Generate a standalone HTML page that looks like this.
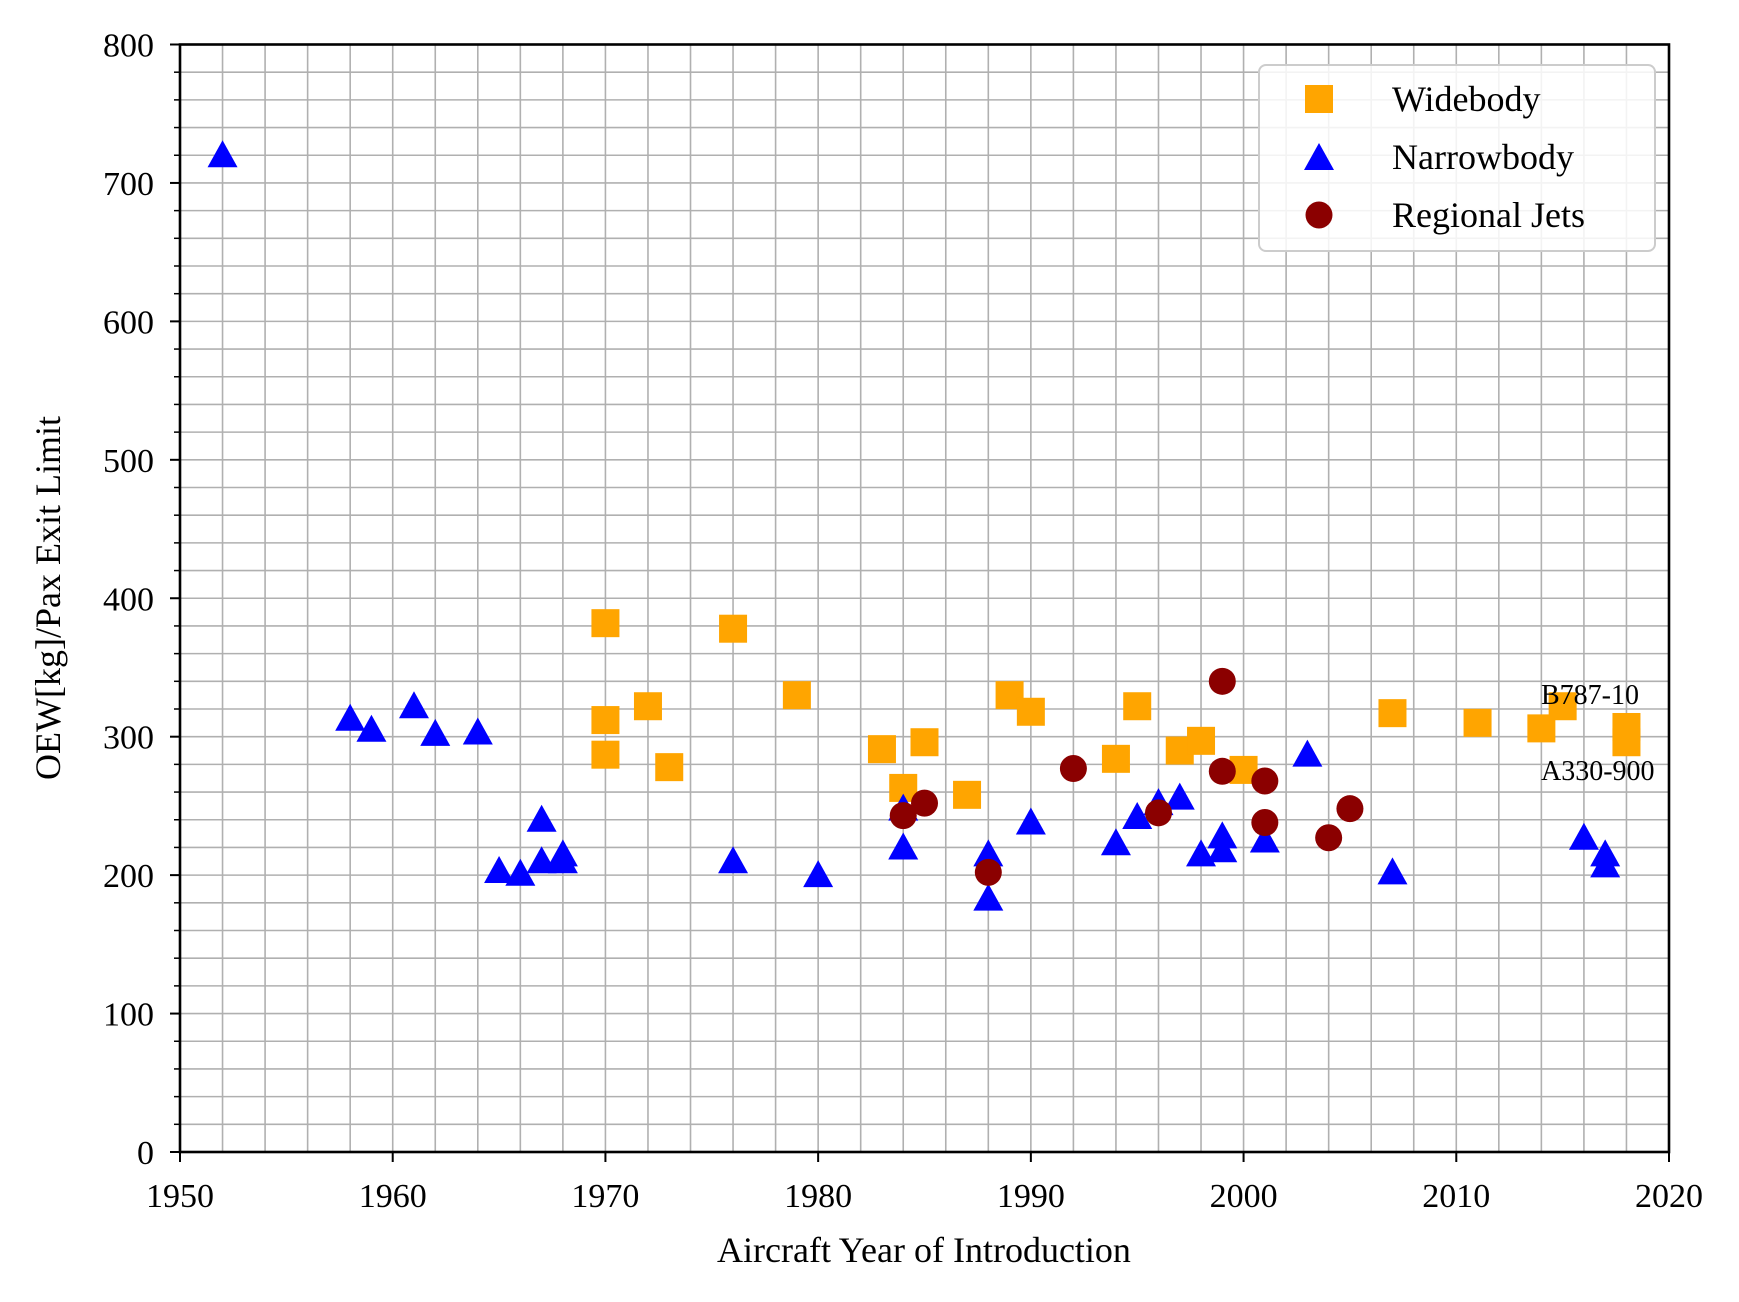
<!DOCTYPE html>
<html><head><meta charset="utf-8">
<style>
html,body{margin:0;padding:0;background:#fff;}
svg{display:block;font-family:"Liberation Serif",serif;}
</style></head>
<body>
<svg id="chart" width="1739" height="1302" viewBox="0 0 1739 1302" xmlns="http://www.w3.org/2000/svg">
<g id="grid"></g>
<g id="marks"></g>
<g id="axes"></g>
<text x="1541" y="704" font-size="28">B787-10</text>
<text x="1541" y="780" font-size="28">A330-900</text>
<text x="924" y="1262" font-size="36" text-anchor="middle">Aircraft Year of Introduction</text>
<text transform="translate(60,598) rotate(-90)" font-size="36" text-anchor="middle">OEW[kg]/Pax Exit Limit</text>
<g>
<rect x="1259" y="65" width="396" height="186" rx="7" fill="#fff" fill-opacity="0.85" stroke="#ccc" stroke-width="2"/>
<rect x="1305" y="85" width="28" height="28" fill="orange"/>
<text x="1392" y="111" font-size="36">Widebody</text>
<polygon points="1319,143 1334,170 1304,170" fill="blue"/>
<text x="1392" y="169" font-size="36">Narrowbody</text>
<circle cx="1319" cy="215" r="13.5" fill="#8b0000"/>
<text x="1392" y="227" font-size="36">Regional Jets</text>
</g>
</svg>
<script>
const wideYears=[1970,1970,1970,1972,1973,1976,1979,1983,1984,1985,1987,1989,1990,1994,1995,1997,1998,2000,2007,2011,2014,2015,2018,2018];
const wideVals=[382,312,287,322,278,378,330,291,263,296,258,330,318,284,322,290,297,276,317,310,306,322,307,296];
const narrowYears=[1952,1958,1959,1961,1962,1964,1965,1966,1967,1967,1968,1968,1976,1980,1984,1984,1988,1988,1990,1994,1995,1996,1997,1998,1999,1999,2001,2003,2007,2016,2017,2017];
const narrowVals=[720,313,305,322,302,303,203,201,240,210,215,210,210,200,220,248,215,183,238,223,242,252,256,215,228,218,225,287,202,227,215,207];
const regYears=[1984,1985,1988,1992,1996,1999,1999,2001,2001,2004,2005];
const regVals=[243,252,202,277,245,340,275,268,238,227,248];
const xTicks=[1950,1960,1970,1980,1990,2000,2010,2020];
const yTicks=[0,100,200,300,400,500,600,700,800];

const NS="http://www.w3.org/2000/svg";
const L=180,R=1669,T=44.5,B=1152;
const xS=v=>L+(v-1950)/70*(R-L);
const yS=v=>B-v/800*(B-T);
function mk(tag,attrs,parent){const e=document.createElementNS(NS,tag);for(const k in attrs)e.setAttribute(k,attrs[k]);parent.appendChild(e);return e;}
const grid=document.getElementById('grid'),marks=document.getElementById('marks'),axes=document.getElementById('axes');
for(let yr=1952;yr<2020;yr+=2){const l=mk('line',{x1:xS(yr),x2:xS(yr),y1:T,y2:B,stroke:'#b0b0b0','stroke-width':1.6},grid);

}
for(let v=20;v<800;v+=20){const l=mk('line',{x1:L,x2:R,y1:yS(v),y2:yS(v),stroke:'#b0b0b0','stroke-width':1.6},grid);

}
wideYears.forEach((yr,i)=>{const e=mk('rect',{x:xS(yr)-14,y:yS(wideVals[i])-14,width:28,height:28,fill:'orange'},marks);

});
narrowYears.forEach((yr,i)=>{const x=xS(yr),y=yS(narrowVals[i]);const e=mk('polygon',{points:`${x},${y-15} ${x+15},${y+12} ${x-15},${y+12}`,fill:'blue'},marks);

});
regYears.forEach((yr,i)=>{const e=mk('circle',{cx:xS(yr),cy:yS(regVals[i]),r:13.5,fill:'#8b0000'},marks);

});
const fr=mk('rect',{x:L,y:T,width:R-L,height:B-T,fill:'none',stroke:'#000','stroke-width':2.6},axes);


xTicks.forEach(v=>{const x=xS(v);mk('line',{x1:x,x2:x,y1:B,y2:B+10,stroke:'#000','stroke-width':2},axes);
const t=mk('text',{x:x,y:1207,'font-size':34,'text-anchor':'middle'},axes);t.textContent=v;

});
yTicks.forEach(v=>{const y=yS(v);mk('line',{x1:L-10,x2:L,y1:y,y2:y,stroke:'#000','stroke-width':2},axes);
const t=mk('text',{x:154,y:y+12,'font-size':34,'text-anchor':'end'},axes);t.textContent=v;

});
for(let v=20;v<800;v+=20){if(v%100)mk('line',{x1:L-6,x2:L,y1:yS(v),y2:yS(v),stroke:'#000','stroke-width':1.5},axes);}
</script>
</body></html>
